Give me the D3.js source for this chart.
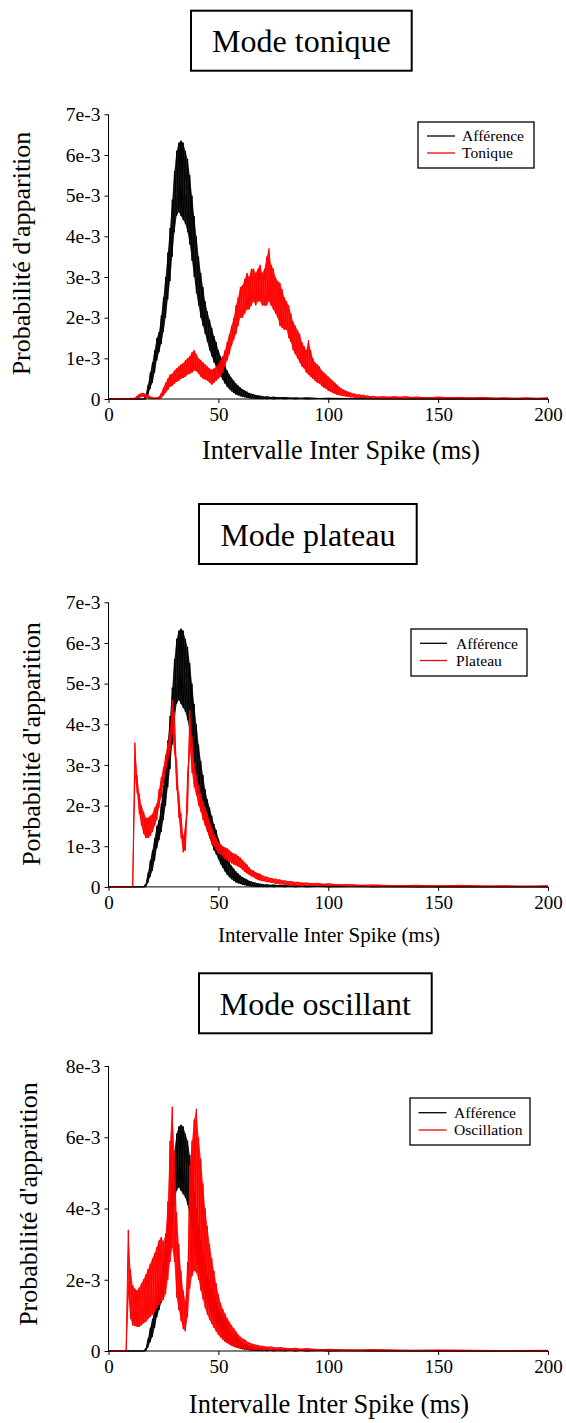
<!DOCTYPE html>
<html><head><meta charset="utf-8">
<script src="https://cdn.jsdelivr.net/npm/d3@7"></script>
<style>
html,body{margin:0;padding:0;background:#fff;}
</style></head>
<body><svg id="c" width="566" height="1423"></svg>
<script>
// ---------- DATA (probabilities in units of 1e-3, x in ms) ----------
const titles = ["Mode tonique", "Mode plateau", "Mode oscillant"];
const yLabels = ["Probabilité d'apparition", "Porbabilité d'apparition", "Probabilité d'apparition"];
const xLabel = "Intervalle Inter Spike (ms)";
const legendNames = [["Afférence", "Tonique"], ["Afférence", "Plateau"], ["Afférence", "Oscillation"]];
const xTicks = [0, 50, 100, 150, 200];
const yTicks12 = [0, 1, 2, 3, 4, 5, 6, 7];
const yTicks3 = [0, 2, 4, 6, 8];

// Afférence (same input in all three panels): upper / lower envelope of the noisy histogram
const affMs = [0,16,17,18,19,20,21,22,23,24,25,26,27,28,29,30,31,32,33,34,35,36,37,38,39,40,41,42,43,44,45,46,47,48,49,50,51,52,53,54,55,56,57,58,59,60,61,62,63,64,65,66,67,68,69,70,72,75,80,85,90,100,120,150,200];
const affHi = [0,0,0.08,0.35,0.65,0.9,1.2,1.5,1.65,2.05,2.5,3.0,3.6,4.2,4.9,5.6,6.1,6.3,6.35,6.3,6.1,5.9,5.5,5.0,4.5,4.0,3.5,3.1,2.75,2.4,2.15,1.95,1.75,1.55,1.4,1.2,1.05,0.95,0.82,0.7,0.6,0.52,0.45,0.38,0.33,0.28,0.24,0.21,0.18,0.15,0.13,0.12,0.1,0.09,0.08,0.07,0.06,0.05,0.04,0.03,0.03,0.02,0.01,0,0];
const affLo = [0,0,0,0.1,0.25,0.4,0.65,0.95,1.15,1.35,1.65,2.0,2.45,2.9,3.5,4.1,4.5,4.6,4.5,4.4,4.3,4.1,3.8,3.4,3.0,2.6,2.3,2.0,1.8,1.6,1.4,1.2,1.05,0.9,0.8,0.68,0.56,0.47,0.38,0.3,0.24,0.19,0.15,0.11,0.09,0.07,0.05,0.04,0.03,0.02,0.01,0.01,0,0,0,0,0,0,0,0,0,0,0,0,0];

// Tonique
const tonMs = [0,12,13,14,15,16,17,18,19,20,21,22,23,24,25,26,27,28,29,30,31,32,33,34,35,36,37,38,39,40,41,42,43,44,45,46,47,48,49,50,51,52,53,54,55,56,57,58,59,60,61,62,63,64,65,66,67,68,69,70,71,72,73,74,75,76,77,78,79,80,81,82,83,84,85,86,87,88,89,90,91,92,93,94,95,96,97,98,99,100,101,102,103,104,105,106,107,108,109,110,112,114,116,118,120,125,130,135,140,150,160,170,180,190,200];
const tonHi = [0,0.02,0.08,0.12,0.15,0.15,0.12,0.1,0.06,0.04,0.03,0.04,0.06,0.15,0.28,0.4,0.5,0.6,0.62,0.7,0.75,0.8,0.85,0.88,0.95,1.0,1.05,1.15,1.2,1.1,1.0,0.95,0.9,0.85,0.8,0.75,0.72,0.75,0.8,0.85,0.95,1.05,1.2,1.4,1.6,1.8,2.0,2.3,2.5,2.75,2.8,2.95,3.1,3.0,3.2,3.2,3.1,3.2,3.3,3.1,3.2,3.5,3.7,3.3,3.2,3.0,2.9,2.85,2.7,2.5,2.4,2.3,2.1,1.9,1.8,1.7,1.6,1.4,1.3,1.2,1.45,1.2,1.0,0.9,0.85,0.8,0.7,0.65,0.6,0.55,0.5,0.45,0.4,0.35,0.3,0.26,0.23,0.2,0.18,0.16,0.13,0.11,0.1,0.08,0.07,0.06,0.06,0.06,0.05,0.05,0.04,0.04,0.03,0.03,0.03];
const tonLo = [0,0,0,0.03,0.05,0.05,0.03,0.02,0,0,0,0,0,0.02,0.08,0.15,0.22,0.3,0.32,0.38,0.42,0.45,0.5,0.52,0.55,0.6,0.62,0.65,0.7,0.68,0.62,0.55,0.5,0.48,0.45,0.4,0.35,0.4,0.45,0.5,0.55,0.65,0.8,0.95,1.1,1.3,1.45,1.6,1.8,2.0,2.0,2.1,2.2,2.2,2.3,2.4,2.3,2.4,2.4,2.3,2.3,2.3,2.4,2.3,2.2,2.1,2.0,1.8,1.75,1.7,1.7,1.5,1.4,1.2,1.1,1.0,0.9,0.8,0.75,0.65,0.6,0.55,0.5,0.45,0.4,0.38,0.32,0.28,0.25,0.2,0.18,0.15,0.13,0.1,0.09,0.08,0.07,0.06,0.05,0.04,0.03,0.02,0.02,0.01,0.01,0,0,0,0,0,0,0,0,0,0];

// Plateau
const plaMs = [0,11,12,13,14,15,16,17,18,19,20,21,22,23,24,25,26,27,28,29,30,31,32,33,34,35,36,37,38,39,40,41,42,43,44,45,46,47,48,49,50,51,52,53,54,55,56,57,58,59,60,61,62,63,64,65,66,67,68,69,70,72,74,76,78,80,83,86,90,95,100,110,120,140,160,180,200];
const plaHi = [0,0,3.55,2.75,2.3,2.0,1.85,1.7,1.7,1.75,1.8,1.95,2.05,2.4,2.7,2.95,3.25,3.55,3.85,4.6,4.3,3.1,2.3,1.8,1.25,1.5,2.8,4.35,3.7,3.05,2.75,2.5,2.3,2.1,1.95,1.8,1.6,1.45,1.3,1.2,1.1,1.05,1.0,0.97,0.95,0.9,0.85,0.82,0.8,0.76,0.72,0.66,0.6,0.55,0.48,0.42,0.4,0.36,0.34,0.32,0.28,0.25,0.22,0.2,0.18,0.16,0.14,0.12,0.1,0.09,0.08,0.06,0.05,0.04,0.04,0.03,0.03];
const plaLo = [0,0,2.7,2.3,1.8,1.5,1.3,1.2,1.2,1.25,1.35,1.5,1.65,1.95,2.2,2.55,2.85,3.1,3.35,3.8,3.3,2.4,1.7,1.2,0.85,0.9,1.9,3.4,2.8,2.45,2.25,2.0,1.85,1.65,1.5,1.35,1.2,1.05,1.0,0.9,0.82,0.8,0.75,0.68,0.65,0.62,0.58,0.55,0.53,0.5,0.47,0.42,0.37,0.33,0.3,0.26,0.24,0.2,0.17,0.16,0.14,0.12,0.1,0.08,0.06,0.05,0.04,0.03,0.03,0.02,0.02,0.01,0,0,0,0,0];

// Oscillation
const oscMs = [0,8,9,10,11,12,13,14,15,16,17,18,19,20,21,22,23,24,25,26,27,28,29,30,31,32,33,34,35,36,37,38,39,40,41,42,43,44,45,46,47,48,49,50,51,52,53,54,55,56,57,58,59,60,62,64,66,68,70,74,78,85,90,100,120,150,200];
const oscHi = [0,0,3.4,2.3,1.85,1.75,1.7,1.78,1.9,2.02,2.15,2.3,2.45,2.6,2.75,2.92,3.1,3.2,3.07,3.3,4.2,5.9,6.86,5.6,3.9,3.0,2.25,1.7,1.4,2.5,5.2,5.9,6.5,6.8,6.0,5.4,4.7,4.0,3.5,3.0,2.6,2.25,1.9,1.6,1.35,1.18,1.05,0.92,0.82,0.72,0.64,0.55,0.46,0.4,0.32,0.24,0.2,0.17,0.14,0.12,0.1,0.08,0.07,0.05,0.04,0.03,0.02];
const oscLo = [0,0,1.6,0.9,0.72,0.7,0.68,0.68,0.72,0.78,0.82,0.9,0.96,1.02,1.1,1.2,1.3,1.38,1.43,1.6,2.0,2.5,2.9,2.5,1.5,1.15,0.85,0.62,0.55,0.95,1.75,2.1,2.25,2.2,2.0,1.7,1.45,1.2,1.02,0.88,0.76,0.65,0.55,0.45,0.38,0.32,0.26,0.22,0.18,0.14,0.12,0.1,0.08,0.07,0.05,0.03,0.02,0.02,0.01,0.01,0,0,0,0,0,0,0];

// ---------- DRAWING ----------
const FONT = '"Liberation Serif", "Times New Roman", Times, serif';
const svg = d3.select("#c");
const toPts = (ms, hi, lo) => ms.map((m, i) => ({x: m, hi: hi[i], lo: lo[i]}));
const seriesByPanel = [
  [toPts(affMs, affHi, affLo), toPts(tonMs, tonHi, tonLo)],
  [toPts(affMs, affHi, affLo), toPts(plaMs, plaHi, plaLo)],
  [toPts(affMs, affHi, affLo), toPts(oscMs, oscHi, oscLo)]
];
const colors = ["#000000", "#ff0000"];

const layout = [
  {box:[191,10.7,220.7,60], titleX:301.4, titleBase:51.7, yTop:114.3, yBot:399, yMax:7, yTicks:yTicks12,
   ylab:{x:30, y:253.5, size:26}, xlab:{x:341, y:459.3, size:26.3},
   leg:{x:418, y:122, w:116, h:46, sw0:427, sw1:455, tx:462, r0:136, r1:153}},
  {box:[199,504,217.7,60], titleX:307.9, titleBase:545.7, yTop:602.3, yBot:886.9, yMax:7, yTicks:yTicks12,
   ylab:{x:40, y:744, size:26}, xlab:{x:329, y:941.7, size:21},
   leg:{x:411, y:629, w:116, h:47, sw0:420, sw1:447, tx:456, r0:643.3, r1:660.5}},
  {box:[199,973.3,232.7,60], titleX:315.3, titleBase:1015, yTop:1066, yBot:1351, yMax:8, yTicks:yTicks3,
   ylab:{x:37, y:1204, size:26}, xlab:{x:329, y:1413, size:26.5},
   leg:{x:410, y:1098, w:120, h:47, sw0:418.5, sw1:446.5, tx:454, r0:1112.7, r1:1130}}
];

const x = d3.scaleLinear().domain([0, 200]).range([108.5, 548]);

layout.forEach((L, p) => {
  const g = svg.append("g");
  // title box
  g.append("rect").attr("x", L.box[0]).attr("y", L.box[1]).attr("width", L.box[2]).attr("height", L.box[3])
    .attr("fill", "#fff").attr("stroke", "#000").attr("stroke-width", 2);
  g.append("text").attr("x", L.titleX).attr("y", L.titleBase).attr("text-anchor", "middle")
    .style("font-family", FONT).style("font-size", "32px").text(titles[p]);

  const y = d3.scaleLinear().domain([0, L.yMax]).range([L.yBot, L.yTop]);

  // series: filled envelope plus criss-cross strokes between upper and lower values (noise texture)
  seriesByPanel[p].forEach((data, s) => {
    const area = d3.area().x(d => x(d.x)).y0(d => y(d.lo)).y1(d => y(d.hi));
    g.append("path").datum(data).attr("d", area)
      .attr("fill", colors[s]).attr("fill-opacity", 0.85).attr("stroke", "none");
    const zigA = d3.line().x(d => x(d.x)).y((d, i) => y(i % 2 ? d.lo : d.hi));
    const zigB = d3.line().x(d => x(d.x)).y((d, i) => y(i % 2 ? d.hi : d.lo));
    [zigA, zigB].forEach(z => g.append("path").datum(data).attr("d", z)
      .attr("fill", "none").attr("stroke", colors[s]).attr("stroke-width", 1).attr("stroke-linejoin", "miter"));
  });

  // axes
  const xAxis = d3.axisBottom(x).tickValues(xTicks).tickSize(4).tickPadding(5).tickFormat(d3.format("d"));
  const gx = g.append("g").attr("transform", `translate(0,${L.yBot})`).call(xAxis);
  gx.select(".domain").attr("stroke", "#000").attr("d", `M${x(0)},0H${x(200)}`);
  gx.selectAll("text").style("font-family", FONT).style("font-size", "19px").attr("fill", "#000");

  const yAxis = d3.axisLeft(y).tickValues(L.yTicks).tickSize(4).tickPadding(4)
    .tickFormat(d => d === 0 ? "0" : d + "e-3");
  const gy = g.append("g").attr("transform", `translate(${x(0)},0)`).call(yAxis);
  gy.select(".domain").attr("stroke", "#000").attr("d", `M0,${L.yTop}V${L.yBot}`);
  gy.selectAll("text").style("font-family", FONT).style("font-size", "19.5px").attr("fill", "#000");

  // axis labels
  g.append("text").attr("transform", `translate(${L.ylab.x},${L.ylab.y}) rotate(-90)`)
    .attr("text-anchor", "middle").style("font-family", FONT).style("font-size", L.ylab.size + "px").text(yLabels[p]);
  g.append("text").attr("x", L.xlab.x).attr("y", L.xlab.y).attr("text-anchor", "middle")
    .style("font-family", FONT).style("font-size", L.xlab.size + "px").text(xLabel);

  // legend
  const lg = L.leg;
  g.append("rect").attr("x", lg.x).attr("y", lg.y).attr("width", lg.w).attr("height", lg.h)
    .attr("fill", "#fff").attr("stroke", "#000").attr("stroke-width", 1.3);
  [lg.r0, lg.r1].forEach((ry, s) => {
    g.append("line").attr("x1", lg.sw0).attr("x2", lg.sw1).attr("y1", ry).attr("y2", ry)
      .attr("stroke", colors[s]).attr("stroke-width", 1.3);
    g.append("text").attr("x", lg.tx).attr("y", ry + 5.2).style("font-family", FONT)
      .style("font-size", "15.6px").text(legendNames[p][s]);
  });
});
</script></body></html>
